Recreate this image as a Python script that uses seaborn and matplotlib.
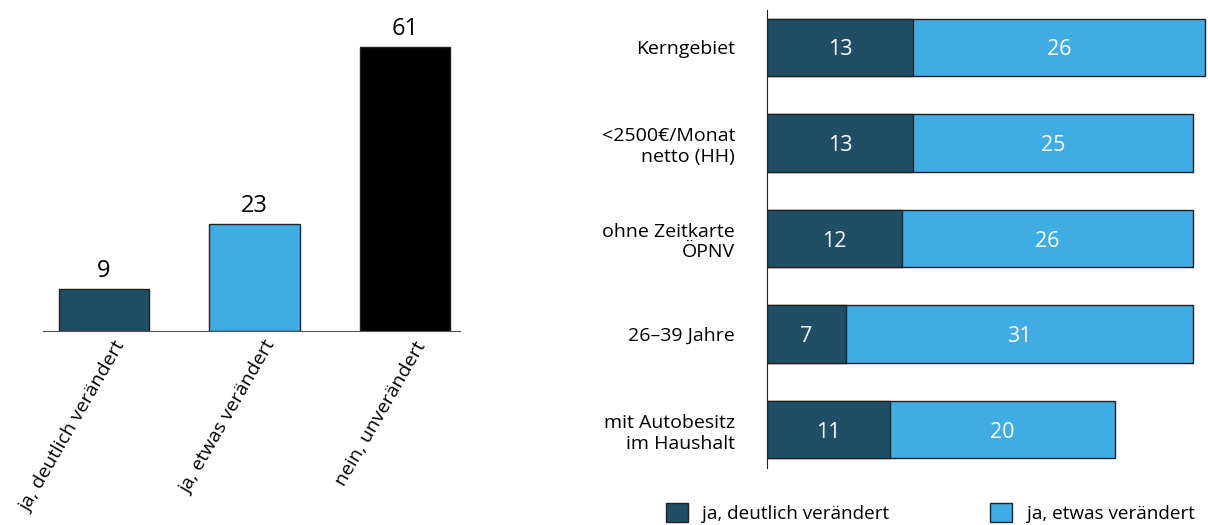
import matplotlib
matplotlib.use('Agg')
import matplotlib.pyplot as plt
import matplotlib.transforms as mtransforms
from matplotlib.patches import Patch
import seaborn as sns
import pandas as pd

# data
answer_cats = ['ja, deutlich verändert', 'ja, etwas verändert', 'nein, unverändert']
answer_vals = [9, 23, 61]

groups = ['Kerngebiet', '<2500€/Monat\nnetto (HH)', 'ohne Zeitkarte\nÖPNV', '26–39 Jahre', 'mit Autobesitz\nim Haushalt']
deutlich = [13, 13, 12, 7, 11]
etwas = [26, 25, 26, 31, 20]

dark = '#1f4e66'
light = '#3fade3'
black = '#000000'

sns.set_style('white')
plt.rcParams['font.family'] = ['Open Sans', 'DejaVu Sans']
plt.rcParams['text.color'] = 'black'
plt.rcParams['xtick.color'] = 'black'
plt.rcParams['ytick.color'] = 'black'

fig = plt.figure(figsize=(12.08, 5.25), dpi=100)

# left: overall answers
ax1 = fig.add_axes([0.0356, 0.3695, 0.345, 0.6305])
sns.barplot(x=answer_cats, y=answer_vals, hue=answer_cats, palette=[dark, light, black],
            legend=False, width=0.6, saturation=1, edgecolor='#222222', linewidth=1, ax=ax1)
for c in ax1.containers:
    ax1.bar_label(c, padding=4, fontsize=17)
ax1.set_ylim(0, 71)
ax1.set_xlim(-0.405, 2.365)
sns.despine(ax=ax1, left=True)
ax1.spines['bottom'].set_color('#555555')
ax1.set_yticks([])
ax1.tick_params(axis='x', length=0, pad=5)
ax1.set_xticks(range(len(answer_cats)))
ax1.set_xticklabels(answer_cats, rotation=60, ha='right', rotation_mode='anchor', fontsize=14)
shift = mtransforms.ScaledTranslation(9 / 100, 0, fig.dpi_scale_trans)
for lbl in ax1.get_xticklabels():
    lbl.set_transform(lbl.get_transform() + shift)

# right: stacked horizontal bars by group
df = pd.DataFrame({'group': groups, 'deutlich': deutlich, 'etwas': etwas})
df['total'] = df['deutlich'] + df['etwas']

ax2 = fig.add_axes([0.635, 0.1086, 0.364, 0.8724])
sns.barplot(data=df, y='group', x='total', color=light, orient='h', width=0.6, saturation=1,
            edgecolor='#222222', linewidth=1, ax=ax2)
sns.barplot(data=df, y='group', x='deutlich', color=dark, orient='h', width=0.6, saturation=1,
            edgecolor='#222222', linewidth=1, ax=ax2)
for i, row in df.iterrows():
    ax2.text(row['deutlich'] / 2, i, str(row['deutlich']), color='white',
             ha='center', va='center_baseline', fontsize=15.5)
    ax2.text(row['deutlich'] + row['etwas'] / 2, i, str(row['etwas']), color='white',
             ha='center', va='center_baseline', fontsize=15.5)
ax2.set_xlim(0, 39.2)
ax2.set_ylim(4.40, -0.39)
sns.despine(ax=ax2, bottom=True)
ax2.spines['left'].set_color('#222222')
ax2.set_xticks([])
ax2.set_xlabel('')
ax2.set_ylabel('')
ax2.tick_params(axis='y', length=0, pad=23, labelsize=14)

handles = [Patch(facecolor=dark, edgecolor='#222222', label='ja, deutlich verändert'),
           Patch(facecolor=light, edgecolor='#222222', label='ja, etwas verändert')]
fig.legend(handles=handles, loc='upper left', bbox_to_anchor=(0.551, 0.042), ncol=2,
           frameon=False, fontsize=13.6, handlelength=1.2, handleheight=1.2,
           handletextpad=0.75, columnspacing=5.3, borderaxespad=0, borderpad=0)

fig.savefig('out.png', dpi=100)
